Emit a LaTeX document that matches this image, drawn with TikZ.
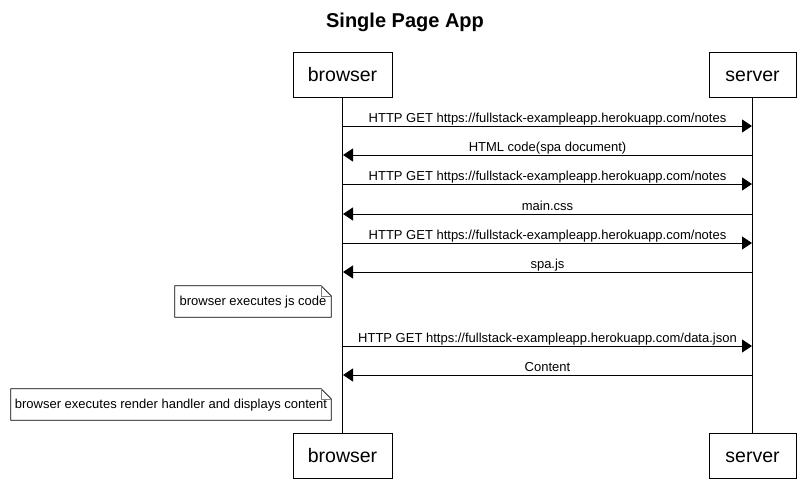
\documentclass[tikz,border=0pt]{standalone}
\usepackage{fontspec}
\setmainfont{Liberation Sans}
\usetikzlibrary{arrows.meta}
\begin{document}
\begin{tikzpicture}[x=1pt,y=-1pt,
  part/.style={draw,line width=0.8pt,minimum width=99pt,minimum height=45pt,inner sep=0pt,text height=16pt,text depth=2pt,font=\fontsize{19.5}{22}\selectfont},
  partS/.style={part,minimum width=87pt},
  msg/.style={line width=0.8pt,-{Triangle[length=10pt,width=13pt]}},
  lbl/.style={midway,above,inner sep=0.5pt,text height=9.5pt,text depth=2.5pt,font=\fontsize{13}{15}\selectfont},
  notebox/.style={inner sep=0pt,minimum height=31pt,text height=10pt,text depth=2pt,font=\fontsize{13}{15}\selectfont},
  life/.style={line width=0.8pt}]
\useasboundingbox (0,0) rectangle (810,503);
\node[font=\bfseries\fontsize{20}{24}\selectfont] (title) at (405,22) {Single Page App};
\node[part] (bt) at (342.5,74.5) {browser};
\node[partS] (st) at (752.5,74.5) {server};
\node[part] (bb) at (342.5,455.5) {browser};
\node[partS] (sb) at (752.5,455.5) {server};
\draw[life] (bt.south) -- (bb.north);
\draw[life] (st.south) -- (sb.north);
\foreach \i/\y in {1/126,2/155,3/184,4/214,5/243,6/272,7/346,8/375}{
  \coordinate (b\i) at (343,\y);
  \coordinate (s\i) at (752,\y);
}
\draw[msg] (b1) -- node[lbl]{HTTP GET https://fullstack-exampleapp.herokuapp.com/notes} (s1);
\draw[msg] (s2) -- node[lbl]{HTML code(spa document)} (b2);
\draw[msg] (b3) -- node[lbl]{HTTP GET https://fullstack-exampleapp.herokuapp.com/notes} (s3);
\draw[msg] (s4) -- node[lbl]{main.css} (b4);
\draw[msg] (b5) -- node[lbl]{HTTP GET https://fullstack-exampleapp.herokuapp.com/notes} (s5);
\draw[msg] (s6) -- node[lbl]{spa.js} (b6);
\draw[msg] (b7) -- node[lbl]{HTTP GET https://fullstack-exampleapp.herokuapp.com/data.json} (s7);
\draw[msg] (s8) -- node[lbl]{Content} (b8);
\node[notebox,minimum width=156pt] (n1) at (253,301.5) {browser executes js code};
\node[notebox,minimum width=320pt] (n2) at (171,404.5) {browser executes render handler and displays content};
\foreach \n in {n1,n2}{
  \draw[line width=0.8pt] (\n.north west) -- ([xshift=-10pt]\n.north east) -- ([yshift=-10pt]\n.north east) -- (\n.south east) -- (\n.south west) -- cycle;
  \draw[line width=0.5pt,gray] ([xshift=-10pt]\n.north east) -- ([xshift=-10pt,yshift=-10pt]\n.north east) -- ([yshift=-10pt]\n.north east);
}
\end{tikzpicture}
\end{document}
